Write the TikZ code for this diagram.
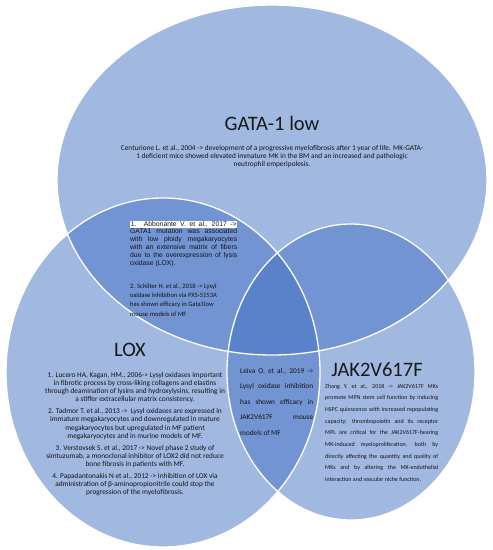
\documentclass[tikz,border=0pt]{standalone}
\usepackage{fontspec}
\setmainfont{Carlito}
\newfontfamily\arialf{Liberation Sans}
\usetikzlibrary{shapes.geometric}
\definecolor{vennblue}{RGB}{68,114,196}
\newcommand{\jline}[2]{\makebox[#1][s]{#2}}
\tikzset{
  vennfill/.style={ellipse, fill=vennblue, fill opacity=0.5, draw=none, inner sep=0pt, outer sep=0pt},
  vennedge/.style={ellipse, draw=white, line width=1.3pt, inner sep=0pt, outer sep=0pt},
  vtitle/.style={font=\fontsize{20.5}{24}\selectfont, inner sep=0pt, text=black!90},
  vbody/.style={inner sep=0pt, text=black!92},
}
\begin{document}
\begin{tikzpicture}[x=1pt,y=-1pt]
\useasboundingbox (0,0) rectangle (493,550);
\fill[white] (0,0) rectangle (493,550);
% circles: fills
\node[vennfill, minimum width=430pt, minimum height=350pt] (gata) at (272,180) {};
\node[vennfill, minimum width=314pt, minimum height=349pt] (lox) at (163,372.5) {};
\node[vennfill, minimum width=248pt, minimum height=296pt] (jak) at (351,372) {};
% circles: edges
\node[vennedge, minimum width=430pt, minimum height=350pt] (gataE) at (gata) {};
\node[vennedge, minimum width=314pt, minimum height=349pt] (loxE) at (lox) {};
\node[vennedge, minimum width=248pt, minimum height=296pt] (jakE) at (jak) {};
% titles
\node[vtitle] (gatat) at (272,123.5) {GATA-1 low};
\node[vtitle] (loxt) at (130,350) {LOX};
\node[vtitle] (jakt) at (377,370) {JAK2V617F};
% GATA-1 low text
\node[vbody, anchor=north, align=center, font=\fontsize{7.35}{8.1}\selectfont] (cent) at (272,145.3)
 {Centurione L. et al., 2004 -> development of a progressive myelofibrosis after 1 year of life. MK-GATA-\\
  1 deficient mice showed elevated immature MK in the BM and an increased and pathologic\\
  neutrophil emperipolesis.};
% Abbonante
\node[vbody, anchor=north west, align=left, font=\arialf\fontsize{6.8}{7.9}\selectfont] (abbo) at (130,220.3)
 {{\fboxsep=0.6pt\colorbox{white}{\jline{105.8pt}{1. Abbonante V. et al., 2017 ->}}}\\
  \jline{107pt}{GATA1 mutation was associated}\\
  \jline{107pt}{with low ploidy megakaryocytes}\\
  \jline{107pt}{with an extensive matrix of fibers}\\
  \jline{107pt}{due to the overexpression of lysis}\\
  oxidase (LOX).};
% Schilter
\node[vbody, anchor=north west, align=left, font=\fontsize{6.6}{9.3}\selectfont] (schi) at (130,283.5)
 {2. Schilter H. et al., 2018 -> Lysyl\\
  oxidase inhibition via PXS-5153A\\
  has shown efficacy in Gata1low\\
  mouse models of MF};
% LOX text
\node[vbody, anchor=north, align=center, font=\fontsize{7.35}{8.1}\selectfont] (loxtxt) at (135,372.3)
 {1. Lucero HA, Kagan, HM., 2006-> Lysyl oxidases important\\
  in fibrotic process by cross-liking collagens and elastins\\
  through deamination of lysins and hydroxylysins, resulting in\\
  a stiffer extracellular matrix consistency.\\[3.8pt]
  2. Tadmor T. et al., 2013 ->\ \ Lysyl oxidases are expressed in\\
  immature megakaryocytes and downregulated in mature\\
  megakaryocytes but upregulated in MF patient\\
  megakaryocytes and in murine models of MF.\\[3.8pt]
  3. Verstovsek S. et al., 2017 -> Novel phase 2 study of\\
  simtuzumab, a monoclonal inhibitor of LOX2 did not reduce\\
  bone fibrosis in patients with MF.\\[3.8pt]
  4. Papadantonakis N et al., 2012 -> Inhibition of LOX via\\
  administration of β-aminopropionitrile could stop the\\
  progression of the myelofibrosis.};
% Leiva
\node[vbody, anchor=north west, align=left, font=\fontsize{7.3}{15.4}\selectfont] (leiva) at (240,368.3)
 {\jline{73pt}{Leiva O. et al., 2019 ->}\\
  \jline{73pt}{Lysyl oxidase inhibition}\\
  \jline{73pt}{has shown efficacy in}\\
  \jline{73pt}{JAK2V617F mouse}\\
  models of MF};
% Zhang
\node[vbody, anchor=north west, align=left, font=\fontsize{6}{11.7}\selectfont] (zhang) at (325,383.7)
 {\jline{113pt}{Zhang Y. et al., 2018 -> JAK2V617F MKs}\\
  \jline{113pt}{promote MPN stem cell function by inducing}\\
  \jline{113pt}{HSPC quiescence with increased repopulating}\\
  \jline{113pt}{capacity; thrombopoietin and its receptor}\\
  \jline{113pt}{MPL are critical for the JAK2V617F-bearing}\\
  \jline{113pt}{MK-induced myeloproliferation, both by}\\
  \jline{113pt}{directly affecting the quantity and quality of}\\
  \jline{113pt}{MKs and by altering the MK-endothelial}\\
  interaction and vascular niche function.};
\end{tikzpicture}
\end{document}
